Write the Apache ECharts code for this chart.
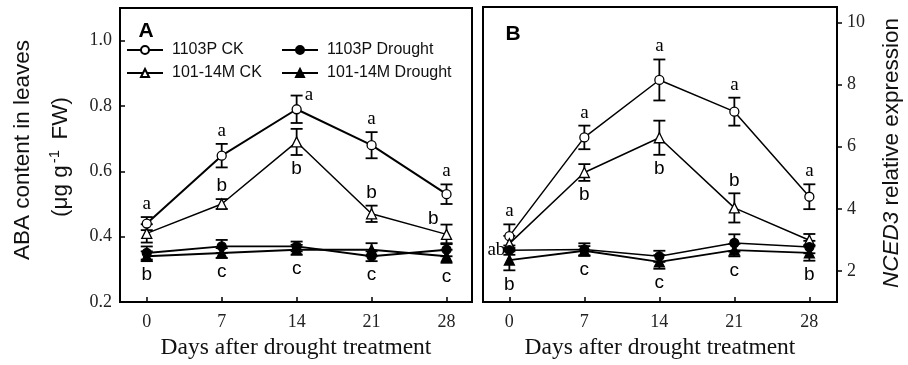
<!DOCTYPE html>
<html>
<head>
<meta charset="utf-8">
<script src="https://cdn.jsdelivr.net/npm/echarts@6/dist/echarts.min.js"></script>
<style>
  html, body { margin: 0; padding: 0; background: #fff; }
  #chart { width: 908px; height: 365px; }
</style>
</head>
<body>
<div id="chart"></div>
<script>
// Sampling days
const days = [0, 7, 14, 21, 28];
const dayTicks = [0, 7, 14, 21, 28];

// Panel A: ABA content in leaves (µg g-1 FW), mean and SE
const aba1103CK = [0.44, 0.648, 0.79, 0.68, 0.53];
const aba1103CKErr = [0.02, 0.036, 0.042, 0.04, 0.03];
const aba101CK = [0.41, 0.50, 0.69, 0.47, 0.407];
const aba101CKErr = [0.028, 0.015, 0.04, 0.025, 0.03];
const aba1103Dr = [0.35, 0.37, 0.37, 0.34, 0.36];
const aba1103DrErr = [0.02, 0.02, 0.015, 0.015, 0.02];
const aba101Dr = [0.34, 0.35, 0.36, 0.36, 0.34];
const aba101DrErr = [0.015, 0.015, 0.015, 0.02, 0.02];
const abaTicks = [0.2, 0.4, 0.6, 0.8, 1.0];

// Panel B: NCED3 relative expression, mean and SE
const nc1103CK = [3.12, 6.30, 8.15, 7.13, 4.39];
const nc1103CKErr = [0.38, 0.38, 0.66, 0.45, 0.4];
const nc101CK = [2.88, 5.17, 6.29, 4.03, 2.99];
const nc101CKErr = [0.25, 0.27, 0.55, 0.47, 0.2];
const nc1103Dr = [2.67, 2.69, 2.47, 2.90, 2.77];
const nc1103DrErr = [0.15, 0.2, 0.18, 0.28, 0.2];
const nc101Dr = [2.35, 2.65, 2.29, 2.67, 2.58];
const nc101DrErr = [0.33, 0.15, 0.22, 0.2, 0.25];
const ncTicks = [2, 4, 6, 8, 10];

// Significance letters
const lettersA1103CK = ['a', 'a', 'a', 'a', 'a'];
const lettersA101CK = ['', 'b', 'b', 'b', 'b'];
const lettersADrought = ['b', 'c', 'c', 'c', 'c'];
const lettersB1103CK = ['a', 'a', 'a', 'a', 'a'];
const lettersB101CK = ['', 'b', 'b', 'b', ''];
const lettersB1103Dr = ['ab', '', '', '', ''];
const lettersBDrought = ['b', 'c', 'c', 'c', 'b'];

const names = ['1103P CK', '101-14M CK', '1103P Drought', '101-14M Drought'];

const SERIF = '"Liberation Serif", "Times New Roman", serif';
const SANS = '"Liberation Sans", Arial, sans-serif';
const INK = '#000';

// open = white-filled marker with black outline
function lineSeries(name, vals, shape, open, axis, width) {
  return {
    type: 'line', name: name,
    xAxisIndex: axis, yAxisIndex: axis,
    data: days.map((d, i) => [d, vals[i]]),
    symbol: shape, symbolSize: shape === 'triangle' ? 10 : 9,
    showAllSymbols: true,
    lineStyle: { color: INK, width: width },
    itemStyle: { color: open ? '#fff' : INK, borderColor: INK, borderWidth: 1.3 },
    emphasis: { disabled: true },
    z: 3, animation: false
  };
}

function errorSeries(vals, errs, axis) {
  return {
    type: 'custom', xAxisIndex: axis, yAxisIndex: axis,
    data: days.map((d, i) => [d, vals[i] - errs[i], vals[i] + errs[i]]),
    renderItem: function (params, api) {
      const lo = api.coord([api.value(0), api.value(1)]);
      const hi = api.coord([api.value(0), api.value(2)]);
      const cap = 6;
      const st = { stroke: INK, lineWidth: 1.8 };
      return {
        type: 'group', children: [
          { type: 'line', shape: { x1: lo[0], y1: lo[1], x2: hi[0], y2: hi[1] }, style: st },
          { type: 'line', shape: { x1: lo[0] - cap, y1: lo[1], x2: lo[0] + cap, y2: lo[1] }, style: st },
          { type: 'line', shape: { x1: hi[0] - cap, y1: hi[1], x2: hi[0] + cap, y2: hi[1] }, style: st }
        ]
      };
    },
    silent: true, z: 1, animation: false
  };
}

// Letter placement relative to a point's error bar
function letterSeries(entries, axis) {
  return {
    type: 'custom', xAxisIndex: axis, yAxisIndex: axis,
    data: entries.map(e => [e.x, e.v]),
    renderItem: function (params, api) {
      const e = entries[params.dataIndex];
      const p = api.coord([api.value(0), api.value(1)]);
      let x = p[0], y = p[1], align = 'center';
      if (e.mode === 'top') y -= 13;
      else if (e.mode === 'bottom') y += 14;
      else if (e.mode === 'left') { x -= 8; y -= 6; align = 'right'; }
      else if (e.mode === 'side') { x -= 4; align = 'right'; }
      else if (e.mode === 'right') { x += 8; y -= 1; align = 'left'; }
      const serif = e.text.indexOf('a') >= 0;
      return {
        type: 'text', x: x, y: y,
        style: {
          text: e.text, align: align, verticalAlign: 'middle',
          fontSize: 19, fontFamily: serif ? SERIF : SANS, fill: INK
        }
      };
    },
    silent: true, z: 4, animation: false
  };
}

function buildLetters(letters, modes, vals, errs) {
  const out = [];
  letters.forEach((t, i) => {
    if (!t) return;
    const m = modes[i];
    let v = vals[i];
    if (m === 'top' || m === 'right' || m === 'left') v = vals[i] + errs[i];
    else if (m === 'bottom') v = vals[i] - errs[i];
    out.push({ x: days[i], v: v, text: t, mode: m });
  });
  return out;
}

function droughtLetters(letters, a, ae, b, be) {
  return letters.map((t, i) => ({
    x: days[i], v: Math.min(a[i] - ae[i], b[i] - be[i]), text: t, mode: 'bottom'
  })).filter(e => e.text);
}

const lettersA = []
  .concat(buildLetters(lettersA1103CK, ['top', 'top', 'right', 'top', 'top'], aba1103CK, aba1103CKErr))
  .concat(buildLetters(lettersA101CK, ['', 'top', 'bottom', 'top', 'left'], aba101CK, aba101CKErr))
  .concat(droughtLetters(lettersADrought, aba1103Dr, aba1103DrErr, aba101Dr, aba101DrErr));

const lettersB = []
  .concat(buildLetters(lettersB1103CK, ['top', 'top', 'top', 'top', 'top'], nc1103CK, nc1103CKErr))
  .concat(buildLetters(lettersB101CK, ['', 'bottom', 'bottom', 'top', ''], nc101CK, nc101CKErr))
  .concat(buildLetters(lettersB1103Dr, ['side', '', '', '', ''], nc1103Dr, nc1103DrErr))
  .concat(droughtLetters(lettersBDrought, nc1103Dr, nc1103DrErr, nc101Dr, nc101DrErr));

const tickLabel = { color: '#222', fontFamily: SERIF, fontSize: 18 };

function xAxis(idx, min, max) {
  return {
    type: 'value', gridIndex: idx, min: min, max: max,
    axisLine: { show: false, onZero: false },
    axisTick: { show: true, inside: true, length: 5, customValues: dayTicks, lineStyle: { color: INK, width: 1.5 } },
    axisLabel: Object.assign({ customValues: dayTicks, margin: 11 }, tickLabel),
    splitLine: { show: false },
    name: 'Days after drought treatment', nameLocation: 'middle', nameGap: 33,
    nameTextStyle: { fontFamily: SERIF, fontSize: 23.5, color: '#111' }
  };
}

const legendText = { fontFamily: SANS, fontSize: 16, color: '#111', padding: [0, 0, 0, 4] };

const chart = echarts.init(document.getElementById('chart'), null, { renderer: 'canvas' });

chart.setOption({
  backgroundColor: '#fff',
  animation: false,
  grid: [
    { left: 120, top: 8, width: 352, height: 294, show: true, borderColor: INK, borderWidth: 2, backgroundColor: 'transparent' },
    { left: 483, top: 7, width: 354, height: 295, show: true, borderColor: INK, borderWidth: 2, backgroundColor: 'transparent' }
  ],
  xAxis: [xAxis(0, -2.5, 30.38), xAxis(1, -2.46, 30.58)],
  yAxis: [
    {
      type: 'value', gridIndex: 0, min: 0.2, max: 1.1,
      axisLine: { show: false, onZero: false },
      axisTick: { show: true, inside: true, length: 5, customValues: abaTicks, lineStyle: { color: INK, width: 1.5 } },
      axisLabel: Object.assign({ customValues: abaTicks, margin: 8, formatter: v => v.toFixed(1) }, tickLabel),
      splitLine: { show: false }
    },
    {
      type: 'value', gridIndex: 1, min: 1, max: 10.5, position: 'right',
      axisLine: { show: false, onZero: false },
      axisTick: { show: true, inside: false, length: 5, customValues: ncTicks, lineStyle: { color: INK, width: 1.5 } },
      axisLabel: Object.assign({ customValues: ncTicks, margin: 10 }, tickLabel),
      splitLine: { show: false }
    }
  ],
  legend: [
    {
      left: 126, top: 42, padding: 0, orient: 'vertical', itemGap: 7, itemWidth: 36, itemHeight: 10,
      data: [names[0], names[1]], selectedMode: false, textStyle: legendText
    },
    {
      left: 281, top: 42, padding: 0, orient: 'vertical', itemGap: 7, itemWidth: 36, itemHeight: 10,
      data: [names[2], names[3]], selectedMode: false, textStyle: legendText
    }
  ],
  graphic: [
    { type: 'text', x: 146, y: 31, style: { text: 'A', fontFamily: SANS, fontWeight: 'bold', fontSize: 21, fill: INK, align: 'center', verticalAlign: 'middle' } },
    { type: 'text', x: 513, y: 34, style: { text: 'B', fontFamily: SANS, fontWeight: 'bold', fontSize: 21, fill: INK, align: 'center', verticalAlign: 'middle' } },
    { type: 'text', x: 23, y: 150, rotation: Math.PI / 2, style: { text: 'ABA content in leaves', fontFamily: SANS, fontSize: 22.5, fill: '#111', align: 'center', verticalAlign: 'middle' } },
    {
      type: 'text', x: 61, y: 157, rotation: Math.PI / 2,
      style: {
        text: '(μg g{sup|-1} FW)', fontFamily: SANS, fontSize: 22.5, fill: '#111', align: 'center', verticalAlign: 'middle',
        rich: { sup: { fontFamily: SANS, fontSize: 15, fill: '#111', verticalAlign: 'top', padding: [0, 4, 12, 2] } }
      }
    },
    {
      type: 'text', x: 892, y: 153, rotation: Math.PI / 2,
      style: {
        text: '{i|NCED3} relative expression', fontFamily: SANS, fontSize: 22.5, fill: '#111', align: 'center', verticalAlign: 'middle',
        rich: { i: { fontFamily: SANS, fontStyle: 'italic', fontSize: 22.5, fill: '#111' } }
      }
    }
  ],
  series: [
    errorSeries(aba1103CK, aba1103CKErr, 0),
    errorSeries(aba101CK, aba101CKErr, 0),
    errorSeries(aba1103Dr, aba1103DrErr, 0),
    errorSeries(aba101Dr, aba101DrErr, 0),
    lineSeries(names[0], aba1103CK, 'circle', true, 0, 2),
    lineSeries(names[1], aba101CK, 'triangle', true, 0, 1.5),
    lineSeries(names[2], aba1103Dr, 'circle', false, 0, 1.8),
    lineSeries(names[3], aba101Dr, 'triangle', false, 0, 1.8),
    letterSeries(lettersA, 0),

    errorSeries(nc1103CK, nc1103CKErr, 1),
    errorSeries(nc101CK, nc101CKErr, 1),
    errorSeries(nc1103Dr, nc1103DrErr, 1),
    errorSeries(nc101Dr, nc101DrErr, 1),
    lineSeries(names[0], nc1103CK, 'circle', true, 1, 1.5),
    lineSeries(names[1], nc101CK, 'triangle', true, 1, 1.5),
    lineSeries(names[2], nc1103Dr, 'circle', false, 1, 1.5),
    lineSeries(names[3], nc101Dr, 'triangle', false, 1, 1.8),
    letterSeries(lettersB, 1)
  ]
});
</script>
</body>
</html>
